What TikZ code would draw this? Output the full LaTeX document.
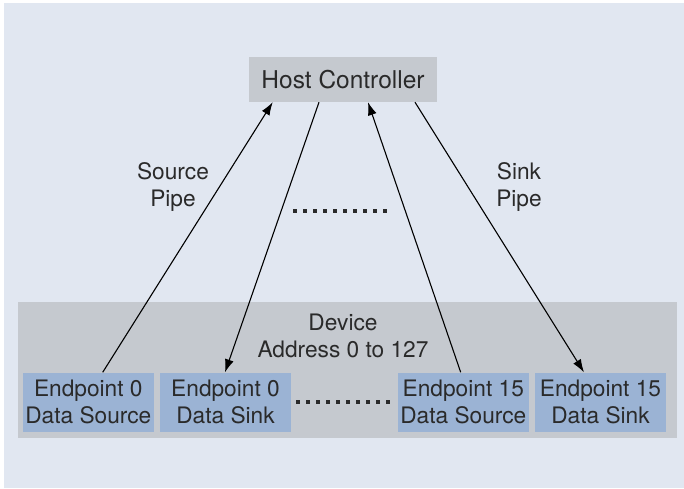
\documentclass[tikz,border=0pt]{standalone}
\usepackage{fontspec}
\setmainfont{TeX Gyre Heros}
\usetikzlibrary{arrows.meta}
\definecolor{bgc}{HTML}{E1E7F1}
\definecolor{grayc}{HTML}{C5C9CF}
\definecolor{bluec}{HTML}{9BB3D4}
\definecolor{txt}{HTML}{2A2A2A}
\tikzset{
  graybox/.style={fill=grayc, draw=none, inner sep=0pt, text=txt},
  epbox/.style={fill=bluec, draw=none, inner sep=0pt, minimum width=131pt, minimum height=59pt, align=center, text=txt, font=\fontsize{22.7}{27}\selectfont},
  lbl/.style={align=center, text=txt, inner sep=0pt, font=\fontsize{22.7}{27}\selectfont},
  arr/.style={draw=black, line width=1.1pt, -{Latex[length=13pt,width=9pt]}},
  dots/.style={draw=txt, line width=4pt, dash pattern=on 4pt off 6pt}
}
\begin{document}
\begin{tikzpicture}[x=1pt,y=-1pt]
\useasboundingbox (0,0) rectangle (684,488);
\fill[bgc] (4,3) rectangle (684,488);
\node[graybox, minimum width=188pt, minimum height=45pt, font=\fontsize{24.5}{28}\selectfont] (host) at (343,79.5) {Host Controller};
\node[graybox, minimum width=659pt, minimum height=136pt] (dev) at (347,370) {};
\node[lbl] (devlbl) at (343,335.5) {Device\\Address 0 to 127};
\node[epbox] (e0src) at (88.3,402) {Endpoint 0\\Data Source};
\node[epbox] (e0snk) at (225.5,402) {Endpoint 0\\Data Sink};
\node[epbox] (e15src) at (463.3,402) {Endpoint 15\\Data Source};
\node[epbox] (e15snk) at (600.5,402) {Endpoint 15\\Data Sink};
\node[lbl] (srcpipe) at (173,187) {Source\\Pipe};
\node[lbl] (snkpipe) at (519,187) {Sink\\Pipe};
\coordinate (d1a) at (293,210.5);
\coordinate (d1b) at (391,210.5);
\coordinate (d2a) at (296,402);
\coordinate (d2b) at (394,402);
\draw[dots] (d1a) -- (d1b);
\draw[dots] (d2a) -- (d2b);
\draw[arr] ([xshift=14.4pt]e0src.north) -- ([xshift=-70.3pt]host.south);
\draw[arr] ([xshift=-24pt]host.south) -- ([xshift=-0.5pt]e0snk.north);
\draw[arr] ([xshift=-2.6pt]e15src.north) -- ([xshift=25pt]host.south);
\draw[arr] ([xshift=72pt]host.south) -- ([xshift=-16.5pt]e15snk.north);
\end{tikzpicture}
\end{document}
